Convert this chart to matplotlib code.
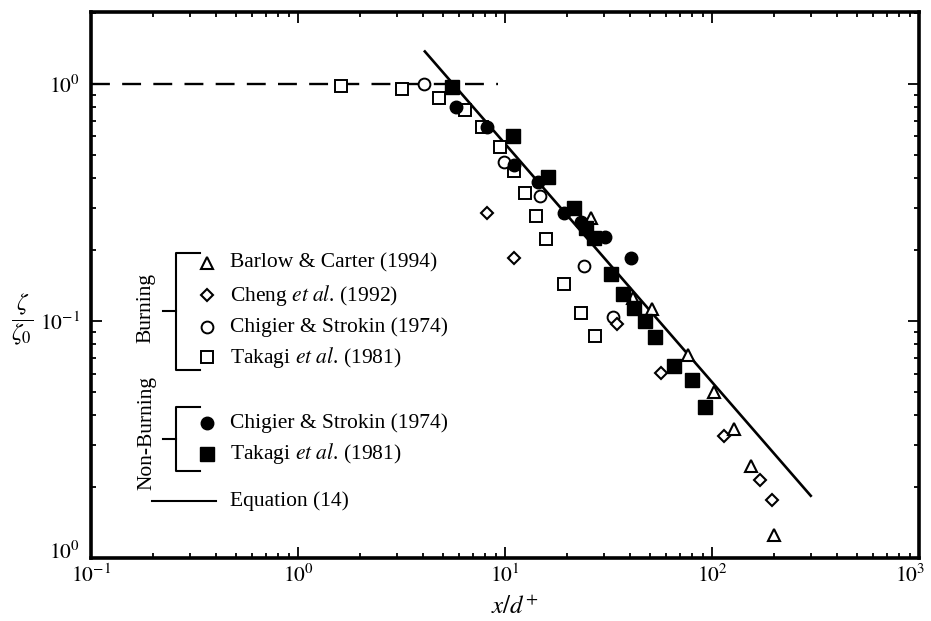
import numpy as np
import matplotlib
matplotlib.use('Agg')
import matplotlib.pyplot as plt
from matplotlib.lines import Line2D
from matplotlib.ticker import LogLocator, NullFormatter
from matplotlib.transforms import ScaledTranslation

# ---------------- data ----------------
barlow_x = [25.9, 41.3, 51.4, 76.2, 102.6, 128, 154, 200]
barlow_y = [0.271, 0.125, 0.112, 0.0719, 0.0503, 0.0349, 0.0245, 0.0125]

cheng_x = [8.2, 11.1, 34.6, 56.9, 114, 170, 196]
cheng_y = [0.286, 0.185, 0.097, 0.0605, 0.0327, 0.0213, 0.0175]

chig_b_x = [4.05, 9.86, 14.7, 24.0, 33.3]
chig_b_y = [1.0, 0.466, 0.335, 0.170, 0.104]

tak_b_x = [1.62, 3.19, 4.78, 6.41, 7.76, 9.5, 11.1, 12.5, 14.1, 15.7, 19.3, 23.3, 27.1]
tak_b_y = [0.98, 0.95, 0.871, 0.777, 0.656, 0.541, 0.427, 0.346, 0.278, 0.221, 0.143, 0.108, 0.0865]

chig_nb_x = [5.78, 8.2, 11.1, 14.5, 19.3, 23.3, 30.4, 40.6]
chig_nb_y = [0.802, 0.66, 0.455, 0.387, 0.285, 0.262, 0.225, 0.184]

tak_nb_x = [5.57, 10.9, 16.2, 21.5, 24.7, 26.9, 32.5, 37.2, 42.0, 47.7, 53.3, 65.8, 80.0, 92.7]
tak_nb_y = [0.968, 0.6, 0.406, 0.299, 0.246, 0.223, 0.158, 0.130, 0.113, 0.100, 0.0859, 0.0646, 0.0564, 0.0435]

eq_x = [4.1, 300]
eq_y = [1.37, 0.0183]

dash_x = [0.1, 9.3]
dash_y = [1.0, 1.0]

xtick_vals = [0.1, 1, 10, 100, 1000]
xtick_labels = [r'$10^{-1}$', r'$10^{0}$', r'$10^{1}$', r'$10^{2}$', r'$10^{3}$']
ytick_vals = [0.01, 0.1, 1]
ytick_labels = [r'$10^{0}$', r'$10^{-1}$', r'$10^{0}$']

legend_labels = ['Barlow & Carter (1994)',
                 r'Cheng $\mathit{et\ al}$. (1992)',
                 'Chigier & Strokin (1974)',
                 r'Takagi $\mathit{et\ al}$. (1981)',
                 'Chigier & Strokin (1974)',
                 r'Takagi $\mathit{et\ al}$. (1981)',
                 'Equation (14)']

# ---------------- style ----------------
plt.rcParams['font.family'] = ['Liberation Serif', 'DejaVu Serif']
plt.rcParams['mathtext.fontset'] = 'stix'

W, H = 931, 621
L, R, T, B = 91, 919, 12, 558
fig = plt.figure(figsize=(W / 100, H / 100), dpi=100)
ax = fig.add_axes([L / W, 1 - B / H, (R - L) / W, (B - T) / H])
ax.set_xscale('log')
ax.set_yscale('log')
ax.set_xlim(0.1, 1000)
ax.set_ylim(0.01, 2.01)

ax.plot(dash_x, dash_y, color='black', lw=1.7, ls=(0, (8, 5.2)), zorder=2)
ax.plot(eq_x, eq_y, color='black', lw=1.9, zorder=2)

styles = {
    'barlow': dict(marker='^', ms=8.5, mew=1.5, mfc='white', mec='black'),
    'cheng': dict(marker='D', ms=6.5, mew=1.5, mfc='white', mec='black'),
    'chig_b': dict(marker='o', ms=8.5, mew=1.4, mfc='white', mec='black'),
    'tak_b': dict(marker='s', ms=8.5, mew=1.4, mfc='white', mec='black'),
    'chig_nb': dict(marker='o', ms=9, mew=1.0, mfc='black', mec='black'),
    'tak_nb': dict(marker='s', ms=9.5, mew=1.0, mfc='black', mec='black'),
}

ax.plot(tak_b_x, tak_b_y, ls='none', zorder=3, **styles['tak_b'])
ax.plot(chig_b_x, chig_b_y, ls='none', zorder=3, **styles['chig_b'])
ax.plot(cheng_x, cheng_y, ls='none', zorder=3, **styles['cheng'])
ax.plot(barlow_x, barlow_y, ls='none', zorder=3, **styles['barlow'])
ax.plot(chig_nb_x, chig_nb_y, ls='none', zorder=4, **styles['chig_nb'])
ax.plot(tak_nb_x, tak_nb_y, ls='none', zorder=4, **styles['tak_nb'])

for s in ax.spines.values():
    s.set_linewidth(2.6)

ax.set_xticks(xtick_vals, xtick_labels)
ax.set_yticks(ytick_vals, ytick_labels)
for axis in (ax.xaxis, ax.yaxis):
    axis.set_minor_locator(LogLocator(base=10, subs=np.arange(2, 10), numticks=30))
    axis.set_minor_formatter(NullFormatter())
ax.tick_params(which='both', direction='in', top=True, right=True, width=1.3, labelsize=15.5)
ax.tick_params(which='major', length=8)
ax.tick_params(which='minor', length=3.6)
ax.tick_params(axis='x', pad=5)
ax.tick_params(axis='y', pad=8)

# nudge edge labels inward as in the reference
last_x = ax.get_xticklabels()[-1]
last_x.set_transform(last_x.get_transform() + ScaledTranslation(-9 / 100, 0, fig.dpi_scale_trans))
first_y = ax.get_yticklabels()[0]
first_y.set_transform(first_y.get_transform() + ScaledTranslation(0, 8 / 100, fig.dpi_scale_trans))

ax.set_xlabel(r'$x/d^{+}$', fontsize=18)
ax.xaxis.set_label_coords((515 - L) / (R - L), (B - 596) / (B - T))
ax.set_ylabel(r'$\dfrac{\zeta}{\zeta_0}$', fontsize=17, rotation=0, ha='center', va='center')
ax.yaxis.set_label_coords((22 - L) / (R - L), (B - 320) / (B - T))

# ---------------- custom legend ----------------
def P(x, y):
    return ((x - L) / (R - L), (B - y) / (B - T))

tr = ax.transAxes
rows = [263, 295, 327, 357, 423, 454, 501]
keys = ['barlow', 'cheng', 'chig_b', 'tak_b', 'chig_nb', 'tak_nb']
for k, yy in zip(keys, rows[:6]):
    mx, my = P(207, yy)
    ax.add_line(Line2D([mx], [my], transform=tr, clip_on=False, ls='none', **styles[k]))
lx0, ly0 = P(152, rows[6])
lx1, _ = P(216, rows[6])
ax.add_line(Line2D([lx0, lx1], [ly0, ly0], transform=tr, clip_on=False, color='black', lw=1.5))
for lab, yy in zip(legend_labels, rows):
    tx, ty = P(230, yy)
    ax.text(tx, ty, lab, transform=tr, fontsize=15.5, va='center', ha='left')

def bracket(y0, y1, ym):
    xs = [200, 176, 176, 200]
    ys = [y0, y0, y1, y1]
    pts = [P(a, b) for a, b in zip(xs, ys)]
    ax.add_line(Line2D([p[0] for p in pts], [p[1] for p in pts], transform=tr,
                       clip_on=False, color='black', lw=1.5))
    a, b = P(163, ym)
    c, _ = P(176, ym)
    ax.add_line(Line2D([a, c], [b, b], transform=tr, clip_on=False, color='black', lw=1.5))

bracket(252.7, 370, 311)
bracket(406.7, 470.7, 439)

bx, by = P(146, 308)
ax.text(bx, by, 'Burning', transform=tr, rotation=90, fontsize=15.5, ha='center', va='center')
nx, ny = P(147, 433)
ax.text(nx, ny, 'Non-Burning', transform=tr, rotation=90, fontsize=15.5, ha='center', va='center')

fig.savefig('out.png', dpi=100)
